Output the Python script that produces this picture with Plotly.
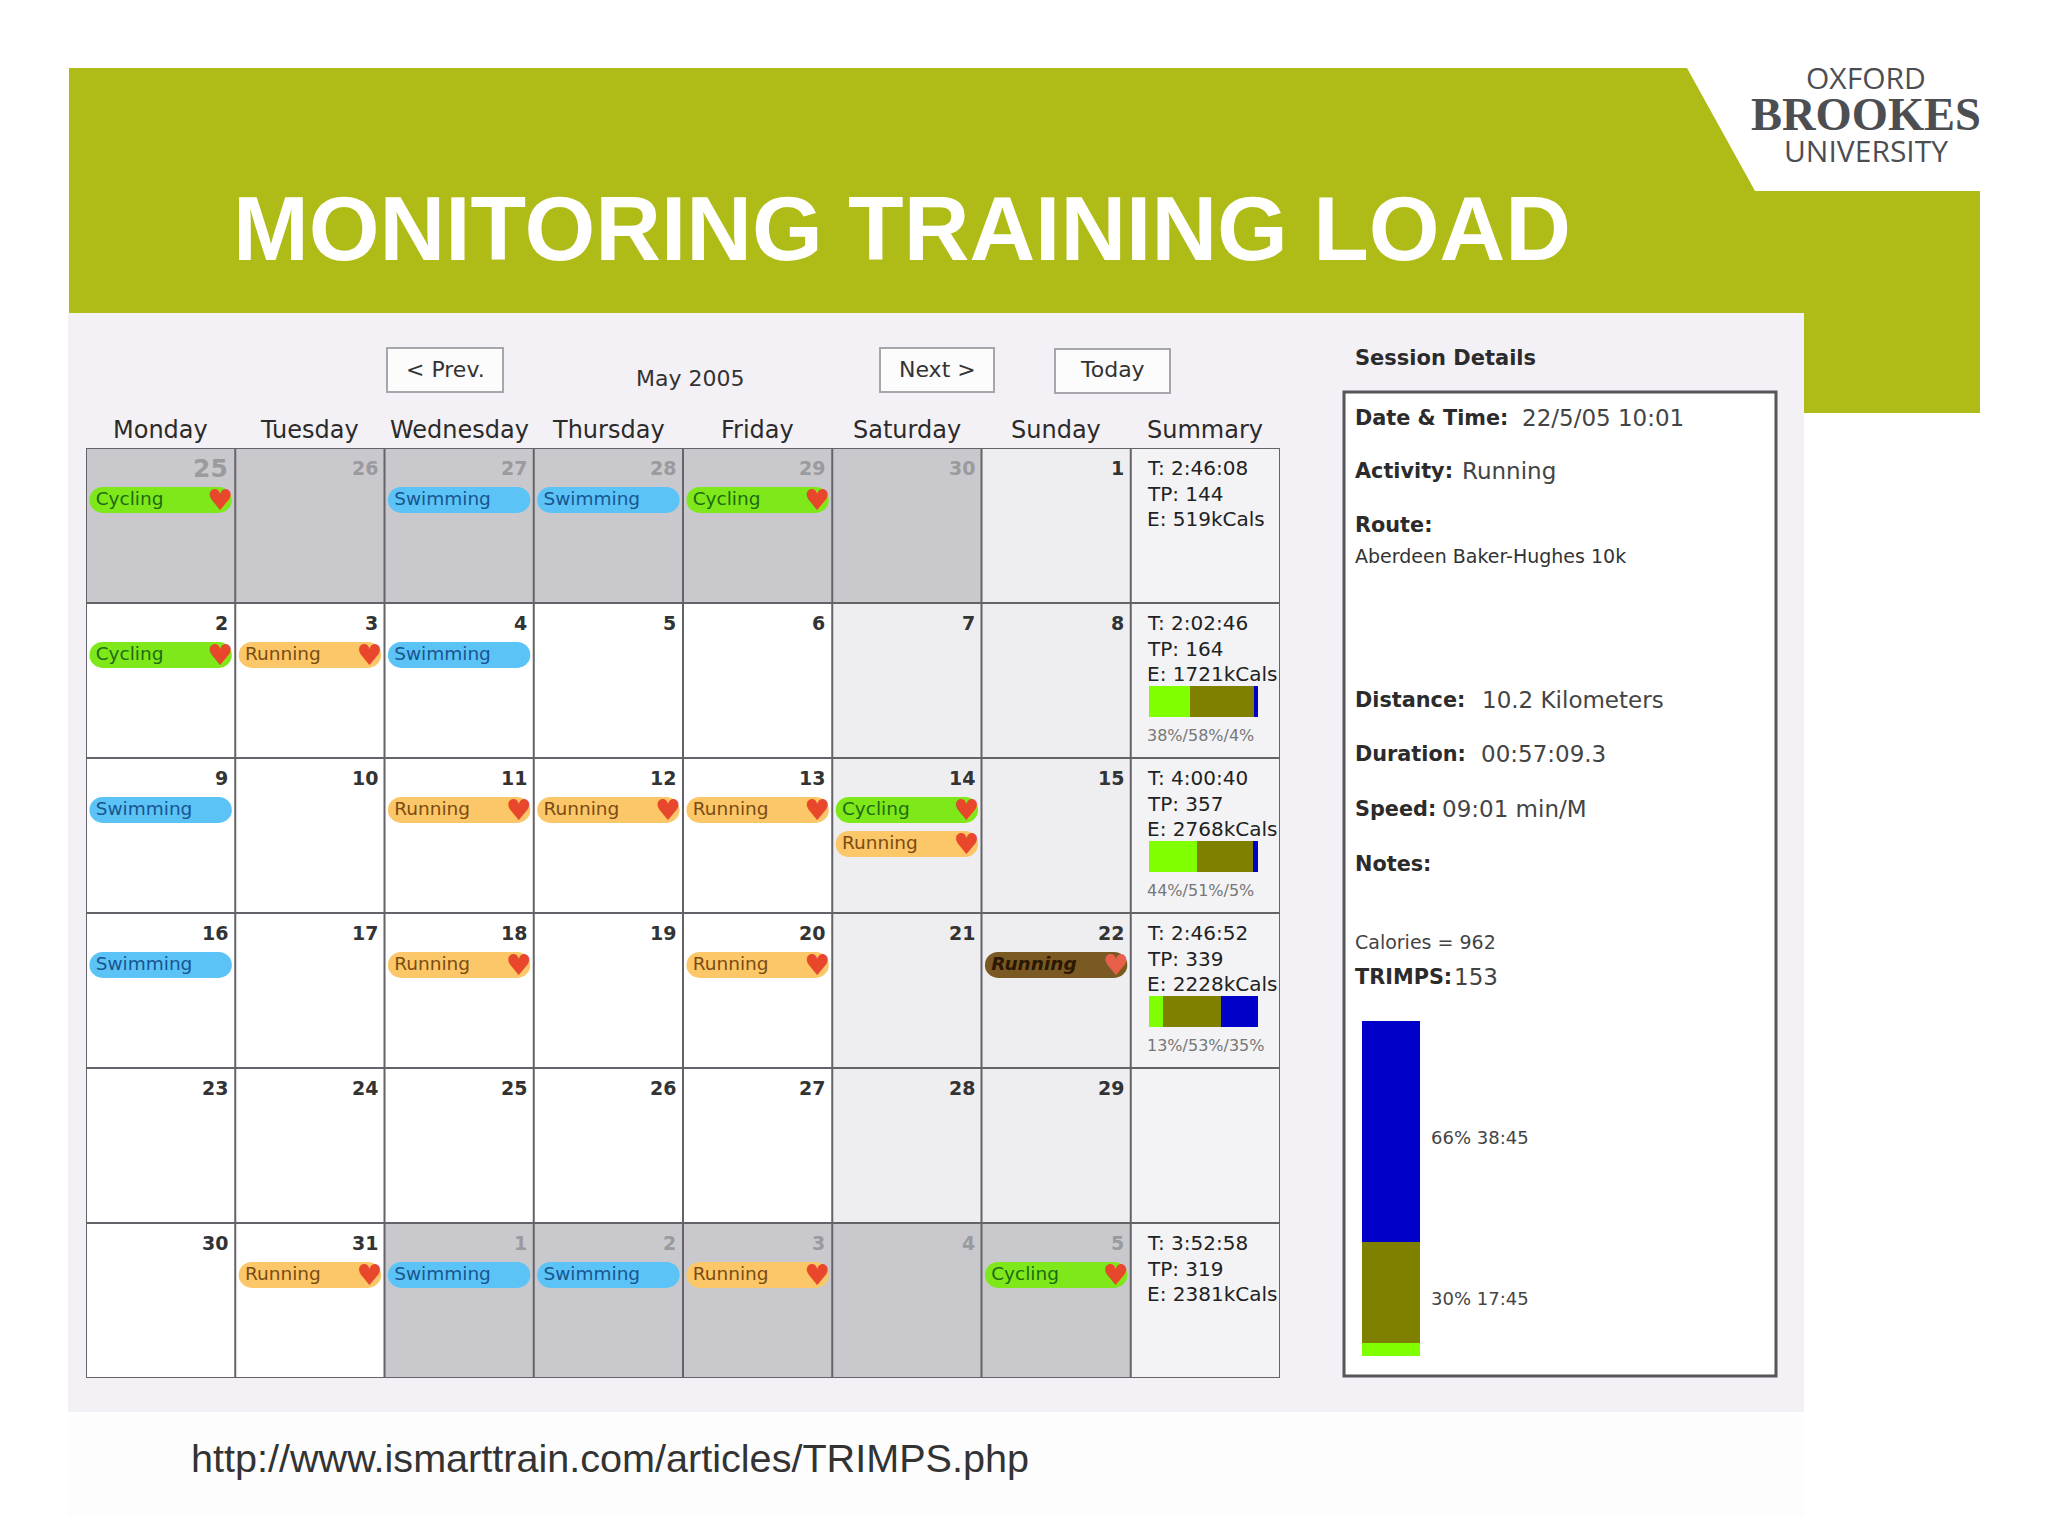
import numpy as np
import plotly.graph_objects as go

W = 2048
H = 1536

weekdays = ['Monday', 'Tuesday', 'Wednesday', 'Thursday', 'Friday', 'Saturday', 'Sunday', 'Summary']
day_numbers = [[25, 26, 27, 28, 29, 30, 1],
               [2, 3, 4, 5, 6, 7, 8],
               [9, 10, 11, 12, 13, 14, 15],
               [16, 17, 18, 19, 20, 21, 22],
               [23, 24, 25, 26, 27, 28, 29],
               [30, 31, 1, 2, 3, 4, 5]]
# 0 other month, 1 weekday, 2 weekend, 3 summary column
cell_shade = [[0, 0, 0, 0, 0, 0, 2, 3],
              [1, 1, 1, 1, 1, 2, 2, 3],
              [1, 1, 1, 1, 1, 2, 2, 3],
              [1, 1, 1, 1, 1, 2, 2, 3],
              [1, 1, 1, 1, 1, 2, 2, 3],
              [1, 1, 0, 0, 0, 0, 0, 3]]

# sessions as (column, row, slot in the cell)
cycling = [(0, 0, 0), (4, 0, 0), (0, 1, 0), (5, 2, 0), (6, 5, 0)]
swimming = [(2, 0, 0), (3, 0, 0), (2, 1, 0), (0, 2, 0), (0, 3, 0), (2, 5, 0), (3, 5, 0)]
running = [(1, 1, 0), (2, 2, 0), (3, 2, 0), (4, 2, 0), (5, 2, 1), (2, 3, 0), (4, 3, 0),
           (1, 5, 0), (4, 5, 0)]
selected = [(6, 3, 0)]

summary_rows = [0, 1, 2, 3, 5]
summary_time = ['2:46:08', '2:02:46', '4:00:40', '2:46:52', '3:52:58']
summary_tp = [144, 164, 357, 339, 319]
summary_kcal = [519, 1721, 2768, 2228, 2381]

zone_rows = [1, 2, 3]
zone_low = [38, 44, 13]
zone_mid = [58, 51, 53]
zone_high = [4, 5, 35]

session_zone_names = ['low', 'mid', 'high']
session_zone_values = [4, 30, 66]
session_zone_colors = ['#80ff00', '#808000', '#0000c8']
session_zone_labels = ['', '30% 17:45', '66% 38:45']

detail_lines = [('Date & Time:', '22/5/05 10:01', 418, 1520),
                ('Activity:', 'Running', 471, 1460),
                ('Route:', '', 525, 0),
                ('Distance:', '10.2 Kilometers', 700, 1480),
                ('Duration:', '00:57:09.3', 754, 1479),
                ('Speed:', '09:01 min/M', 809, 1440),
                ('Notes:', '', 864, 0),
                ('TRIMPS:', '153', 977, 1452)]

GREEN = '#afbb16'
UI_FONT = 'DejaVu Sans'
PILL_Y = 0.335
SLOT_Y = 0.22


def px(x):
    return x / W


def py(y):
    return 1 - y / H


def label(x, y, text, size, color='#2b2b2b', family=UI_FONT, anchor='left', **kw):
    return dict(x=px(x), y=py(y), xref='paper', yref='paper', text=text, showarrow=False,
                xanchor=anchor, yanchor='middle', font=dict(size=size, color=color, family=family),
                **kw)


def rect(x0, y0, x1, y1, fill, line=None, width=0):
    return dict(type='rect', xref='paper', yref='paper', x0=px(x0), x1=px(x1), y0=py(y0), y1=py(y1),
                fillcolor=fill, line=dict(color=line, width=width) if line else dict(width=0),
                layer='below')


def pill_trace(sessions, color):
    xs, ys = [], []
    for col, row, slot in sessions:
        yc = row + PILL_Y + SLOT_Y * slot
        xs += [col + 0.11, col + 0.89, None]
        ys += [yc, yc, None]
    return go.Scatter(x=xs, y=ys, mode='lines+markers', line=dict(color=color, width=26),
                      marker=dict(color=color, size=26, line=dict(width=0)),
                      hoverinfo='skip', showlegend=False)


def text_trace(sessions, name, color, size=18.5, bold=False):
    xs = [s[0] + 0.065 for s in sessions]
    ys = [s[1] + PILL_Y + SLOT_Y * s[2] for s in sessions]
    txt = ['<b><i>%s</i></b>' % name if bold else name] * len(sessions)
    return go.Scatter(x=xs, y=ys, mode='text', text=txt, textposition='middle right',
                      textfont=dict(size=size, color=color, family=UI_FONT),
                      hoverinfo='skip', showlegend=False)


def heart_trace(sessions, color='#e8472b'):
    xs = [s[0] + 0.9 for s in sessions]
    ys = [s[1] + PILL_Y + 0.015 + SLOT_Y * s[2] for s in sessions]
    return go.Scatter(x=xs, y=ys, mode='text', text=['\u2665'] * len(sessions),
                      textposition='middle center',
                      textfont=dict(size=29, color=color, family=UI_FONT),
                      hoverinfo='skip', showlegend=False)


traces = []

# calendar cells
traces.append(go.Heatmap(x=np.arange(8) + 0.5, y=np.arange(6) + 0.5, z=cell_shade, zmin=0, zmax=3,
                         colorscale=[[0, '#c9c9cd'], [0.25, '#c9c9cd'], [0.25, '#ffffff'], [0.5, '#ffffff'],
                                     [0.5, '#eeeef1'], [0.75, '#eeeef1'], [0.75, '#f3f3f6'], [1, '#f3f3f6']],
                         showscale=False, hoverinfo='skip'))

# grid lines
grid_x, grid_y = [], []
for c in range(9):
    grid_x += [c, c, None]
    grid_y += [0, 6, None]
for r in range(7):
    grid_x += [0, 8, None]
    grid_y += [r, r, None]
traces.append(go.Scatter(x=grid_x, y=grid_y, mode='lines', line=dict(color='#636369', width=2),
                         hoverinfo='skip', showlegend=False))

traces.append(pill_trace(cycling, '#7fe81a'))
traces.append(pill_trace(swimming, '#5cc3f7'))
traces.append(pill_trace(running, '#fcc768'))
traces.append(pill_trace(selected, '#7a5a22'))
traces.append(text_trace(cycling, 'Cycling', '#1d6b12'))
traces.append(text_trace(swimming, 'Swimming', '#17568f'))
traces.append(text_trace(running, 'Running', '#7b4c12'))
traces.append(text_trace(selected, 'Running', '#2a1804', bold=True))
traces.append(heart_trace(cycling + running))
traces.append(heart_trace(selected, '#e8604a'))

# weekly zone bars on their own x axis inside the summary column
zone_y = [r + 0.635 for r in zone_rows]
for vals, color, base in [(zone_low, '#80ff00', [0, 0, 0]),
                          (zone_mid, '#808000', zone_low),
                          (zone_high, '#0000c8', [a + b for a, b in zip(zone_low, zone_mid)])]:
    traces.append(go.Bar(x=vals, y=zone_y, base=base, orientation='h', width=0.2,
                         marker=dict(color=color, line=dict(width=0)),
                         xaxis='x2', yaxis='y', hoverinfo='skip', showlegend=False))

# session zone bar
for name, val, color in zip(session_zone_names, session_zone_values, session_zone_colors):
    traces.append(go.Bar(x=['session'], y=[val], name=name, width=1,
                         marker=dict(color=color, line=dict(width=0)),
                         xaxis='x3', yaxis='y3', hoverinfo='skip', showlegend=False))

shapes = [
    rect(68, 1412, 1804, 1516, '#fdfdfe'),
    rect(68, 313, 1804, 1412, '#f4f1f6'),
    dict(type='path', xref='paper', yref='paper', layer='below', fillcolor=GREEN, line=dict(width=0),
         path='M %f %f L %f %f L %f %f L %f %f L %f %f L %f %f L %f %f L %f %f Z' % (
             px(69), py(68), px(1687), py(68), px(1755), py(191), px(1980), py(191),
             px(1980), py(413), px(1804), py(413), px(1804), py(313), px(69), py(313))),
    rect(387, 348, 503, 392, '#fdfcfd', '#a6a6ac', 2),
    rect(880, 348, 994, 392, '#fdfcfd', '#a6a6ac', 2),
    rect(1055, 349, 1170, 393, '#fdfcfd', '#a6a6ac', 2),
    rect(1344, 392, 1776, 1376, '#ffffff', '#55555a', 3),
]

annotations = [
    label(231, 229, '<b>MONITORING TRAINING LOAD</b>', 91, '#ffffff', 'Liberation Sans'),
    label(1866, 77, 'OXFORD', 30, '#4d4e52', 'Open Sans', 'center'),
    label(1866, 114, '<b>BROOKES</b>', 46.5, '#4d4e52', 'Liberation Serif', 'center'),
    label(1866, 150, 'UNIVERSITY', 30, '#4d4e52', 'Open Sans', 'center'),
    label(189, 1458, 'http://www.ismarttrain.com/articles/TRIMPS.php', 39.6, '#333333', 'Liberation Sans'),
    label(445, 370, '&lt; Prev.', 22, '#333333', anchor='center'),
    label(937, 370, 'Next &gt;', 22, '#333333', anchor='center'),
    label(1112, 370, 'Today', 22, '#333333', anchor='center'),
    label(690, 378, 'May 2005', 22, '#333333', anchor='center'),
    label(1353, 358, '<b>Session Details</b>', 21),
    label(1353, 556, 'Aberdeen Baker-Hughes 10k', 19, '#333333'),
    label(1353, 942, 'Calories = 962', 19, '#444444'),
]

for head, value, y, vx in detail_lines:
    annotations.append(label(1353, y, '<b>%s</b>' % head, 20.8))
    if value:
        annotations.append(label(vx, y, value, 23, '#444444'))

# session zone bar labels sit beside the segment middle
seg_base = 0
for val, text in zip(session_zone_values, session_zone_labels):
    if text:
        annotations.append(dict(x=0.5, y=seg_base + val / 2, xref='x3', yref='y3', text=text,
                                showarrow=False, xanchor='left', xshift=9, yshift=-6,
                                font=dict(size=18, color='#444444', family=UI_FONT)))
    seg_base += val

# column headers sit above the plot area, so they are placed on the page
for c, name in enumerate(weekdays):
    annotations.append(label(86 + (c + 0.5) * 149.25, 430, name, 24, anchor='center'))

# day numbers
for r, row in enumerate(day_numbers):
    for c, num in enumerate(row):
        out = cell_shade[r][c] == 0
        size = 25 if (r == 0 and c == 0) else 19
        annotations.append(dict(x=c + 1, y=r + 0.13, xref='x', yref='y', text='<b>%d</b>' % num,
                                showarrow=False, xanchor='right', xshift=-5,
                                font=dict(size=size, color='#9a9a9f' if out else '#333333', family=UI_FONT)))

# weekly summaries
for r, t, tp, e in zip(summary_rows, summary_time, summary_tp, summary_kcal):
    for off, txt in [(0.13, 'T: %s' % t), (0.295, 'TP: %d' % tp), (0.46, 'E: %dkCals' % e)]:
        annotations.append(dict(x=7, y=r + off, xref='x', yref='y', text=txt, showarrow=False,
                                xanchor='left', xshift=14,
                                font=dict(size=20, color='#222222', family=UI_FONT)))

for r, a, b, c in zip(zone_rows, zone_low, zone_mid, zone_high):
    annotations.append(dict(x=7, y=r + 0.855, xref='x', yref='y', text='%d%%/%d%%/%d%%' % (a, b, c),
                            showarrow=False, xanchor='left', xshift=14,
                            font=dict(size=16, color='#777777', family=UI_FONT)))

hidden = dict(visible=False, showgrid=False, zeroline=False)

fig = go.Figure(data=traces)
fig.update_layout(
    width=W, height=H, autosize=False,
    margin=dict(l=0, r=0, t=0, b=0),
    paper_bgcolor='#ffffff', plot_bgcolor='rgba(0,0,0,0)',
    barmode='stack', showlegend=False,
    xaxis=dict(domain=[px(86), px(1280)], range=[0, 8], **hidden),
    yaxis=dict(domain=[py(1378), py(448)], range=[6, 0], **hidden),
    xaxis2=dict(domain=[px(1149), px(1258)], range=[0, 100], anchor='y', **hidden),
    xaxis3=dict(domain=[px(1362), px(1420)], anchor='y3', type='category', **hidden),
    yaxis3=dict(domain=[py(1356), py(1021)], range=[0, 100], anchor='x3', **hidden),
    shapes=shapes,
    annotations=annotations,
)

fig.write_html("out.html", config=dict(displayModeBar=False),
               post_script="document.body.style.margin='0';")
